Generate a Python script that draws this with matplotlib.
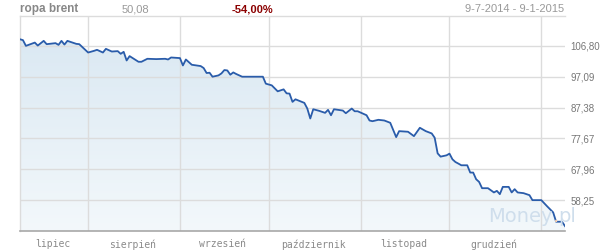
import matplotlib
matplotlib.use("Agg")
import matplotlib.pyplot as plt
import matplotlib.dates as mdates
import numpy as np
import pandas as pd
from matplotlib.patches import Polygon
from matplotlib.colors import LinearSegmentedColormap

# ---- data ----
dates = ["2014-07-09", "2014-07-10", "2014-07-11", "2014-07-14", "2014-07-15", "2014-07-17",
         "2014-07-18", "2014-07-21", "2014-07-22", "2014-07-23", "2014-07-24", "2014-07-25",
         "2014-07-28", "2014-07-29", "2014-08-01", "2014-08-03", "2014-08-04", "2014-08-06",
         "2014-08-07", "2014-08-09", "2014-08-11", "2014-08-12", "2014-08-13", "2014-08-14",
         "2014-08-15", "2014-08-18", "2014-08-19", "2014-08-21", "2014-08-24", "2014-08-27",
         "2014-08-28", "2014-08-29", "2014-09-01", "2014-09-02", "2014-09-03", "2014-09-05",
         "2014-09-08", "2014-09-09", "2014-09-10", "2014-09-11", "2014-09-12", "2014-09-14",
         "2014-09-15", "2014-09-16", "2014-09-17", "2014-09-18", "2014-09-19", "2014-09-20",
         "2014-09-22", "2014-09-29", "2014-09-30", "2014-10-02", "2014-10-04", "2014-10-06",
         "2014-10-07", "2014-10-08", "2014-10-09", "2014-10-10", "2014-10-13", "2014-10-14",
         "2014-10-15", "2014-10-16", "2014-10-18", "2014-10-20", "2014-10-21", "2014-10-22",
         "2014-10-23", "2014-10-26", "2014-10-27", "2014-10-29", "2014-10-30", "2014-10-31",
         "2014-11-03", "2014-11-04", "2014-11-05", "2014-11-07", "2014-11-09", "2014-11-11",
         "2014-11-13", "2014-11-14", "2014-11-17", "2014-11-19", "2014-11-21", "2014-11-23",
         "2014-11-25", "2014-11-26", "2014-11-27", "2014-11-28", "2014-11-30", "2014-12-01",
         "2014-12-02", "2014-12-03", "2014-12-04", "2014-12-05", "2014-12-07", "2014-12-08",
         "2014-12-09", "2014-12-10", "2014-12-11", "2014-12-12", "2014-12-14", "2014-12-16",
         "2014-12-17", "2014-12-18", "2014-12-19", "2014-12-21", "2014-12-22", "2014-12-23",
         "2014-12-24", "2014-12-26", "2014-12-28", "2014-12-29", "2015-01-01", "2015-01-03",
         "2015-01-05", "2015-01-06", "2015-01-08", "2015-01-09"]
prices = [108.87, 108.60, 106.80, 107.83, 106.89, 108.37,
          107.33, 107.65, 107.11, 108.37, 107.21, 108.37,
          107.43, 107.33, 104.70, 105.23, 105.55, 104.70,
          105.86, 105.01, 105.14, 104.29, 104.92, 102.20,
          103.57, 101.79, 101.79, 102.73, 102.63, 102.73,
          102.51, 103.14, 102.95, 100.63, 102.51, 100.85,
          100.44, 99.82, 98.25, 98.34, 97.09, 97.50,
          98.12, 99.19, 99.06, 97.72, 98.44, 97.94,
          97.09, 97.09, 94.90, 94.37, 92.49, 93.11,
          91.86, 91.77, 89.17, 89.98, 88.85, 87.07,
          83.94, 86.85, 86.35, 85.72, 86.66, 84.97,
          86.85, 86.44, 85.60, 87.07, 86.22, 86.22,
          84.97, 83.31, 83.09, 83.53, 83.31, 82.59,
          78.08, 79.96, 79.77, 78.39, 81.02, 79.96,
          79.24, 77.89, 72.97, 71.94, 72.35, 72.88,
          71.10, 70.25, 69.75, 69.22, 69.22, 66.93,
          66.93, 64.83, 63.99, 62.01, 62.01, 60.67,
          61.17, 60.13, 62.42, 62.42, 60.67, 61.70,
          60.67, 60.45, 59.82, 58.25, 58.25, 56.28,
          54.40, 51.46, 51.46, 50.08]
y_ticks = [58.25, 67.96, 77.67, 87.38, 97.09, 106.80]
month_starts = ["2014-08-01", "2014-09-01", "2014-10-01", "2014-11-01", "2014-12-01", "2015-01-01"]
month_mids = ["2014-07-20 00:00", "2014-08-16 00:00", "2014-09-15 12:00",
              "2014-10-16 00:00", "2014-11-15 12:00", "2014-12-16 00:00"]
month_labels = ["lipiec", "sierpień", "wrzesień", "październik", "listopad", "grudzień"]
title_name = "ropa brent"
last_value = "50,08"
change = "-54,00%"
period = "9-7-2014 - 9-1-2015"
x_start, x_end = "2014-07-09", "2015-01-09"
y_min, y_max = 48.54, 116.35

# ---- figure ----
fig = plt.figure(figsize=(6, 2.5), dpi=100)
W, H = 600, 250
ax = fig.add_axes([20 / W, (H - 231) / H, 545 / W, 215.5 / H])

x = mdates.date2num(pd.to_datetime(dates))
y = np.array(prices)
x0 = mdates.date2num(pd.Timestamp(x_start))
x1 = mdates.date2num(pd.Timestamp(x_end))

ax.set_xlim(x0, x1)
ax.set_ylim(y_min, y_max)

# gradient fill under the line
grad = np.linspace(0, 1, 256).reshape(-1, 1)
cmap = LinearSegmentedColormap.from_list("g", ["#f3f8fb", "#d8e7f2"])
img = ax.imshow(grad, extent=[x0, x1, y_min, y_max], origin="lower", aspect="auto",
                cmap=cmap, zorder=1)
poly_xy = np.column_stack([np.r_[x[0], x, x[-1]], np.r_[y_min, y, y_min]])
clip = Polygon(poly_xy, closed=True, transform=ax.transData, facecolor="none", edgecolor="none")
ax.add_patch(clip)
img.set_clip_path(clip)

ax.plot(x, y, color="#2a5caa", lw=1.3, zorder=3, solid_joinstyle="round")

# grid
for ms in month_starts:
    ax.axvline(mdates.date2num(pd.Timestamp(ms)), color="#dcdcdc", lw=1, zorder=2)
for t in y_ticks:
    ax.axhline(t, color="#dcdcdc", lw=1, zorder=2)

for s in ["top", "left"]:
    ax.spines[s].set_color("#dcdcdc")
    ax.spines[s].set_linewidth(1)
ax.spines["right"].set_visible(False)
ax.spines["bottom"].set_color("#a8a8a8")
ax.spines["bottom"].set_linewidth(1.2)

# y tick labels on the right
ax.yaxis.tick_right()
ax.set_yticks(y_ticks)
ax.set_yticklabels([f"{t:.2f}".replace(".", ",") for t in y_ticks], family="Liberation Sans")
ax.tick_params(axis="y", length=0, pad=4, labelsize=7, labelcolor="#777777")

# month labels
ax.set_xticks(mdates.date2num(pd.to_datetime(month_mids)))
ax.set_xticklabels(month_labels, family="DejaVu Sans Mono")
ax.tick_params(axis="x", length=0, pad=6, labelsize=7, labelcolor="#8a8a8a")

# header
hy = 1 - 9 / H
fig.text(20 / W, hy, title_name, fontsize=8.5, fontweight="bold", color="#888888",
         va="center", ha="left", family="Liberation Sans")
fig.text(122 / W, hy, last_value, fontsize=8, color="#999999", va="center", ha="left",
         family="Liberation Sans")
fig.text(232 / W, hy, change, fontsize=8, fontweight="bold", color="#8b0000", va="center",
         ha="left", family="Liberation Sans")
fig.text(564 / W, hy, period, fontsize=8, color="#999999", va="center", ha="right",
         family="Liberation Sans")

# watermark
fig.canvas.draw()
r = fig.canvas.get_renderer()
wy = 1 - 217 / H
t1 = fig.text(488 / W, wy, "Money", fontsize=14, color="#cfdeec", va="center", ha="left", zorder=5)
bb = t1.get_window_extent(renderer=r)
t2 = fig.text(bb.x1 / W, wy, ".", fontsize=14, color="#f2cdb0", va="center", ha="left", zorder=5)
bb2 = t2.get_window_extent(renderer=r)
fig.text(bb2.x1 / W, wy, "pl", fontsize=14, color="#cfdeec", va="center", ha="left", zorder=5)

fig.savefig("out.png", dpi=100)
